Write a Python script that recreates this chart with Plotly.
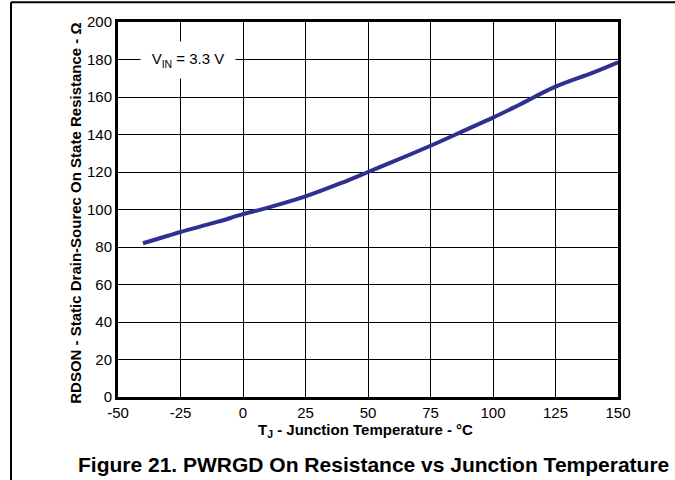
import plotly.graph_objects as go

# junction temperature (°C) vs on-state resistance (ohm)
temp_c = [-40, -30, -25, -10, 0, 10, 25, 40, 50, 60, 75, 90, 100, 110, 125, 140, 150]
rdson_ohm = [82, 86, 88, 93.5, 97.5, 101, 107, 114.5, 120, 125.5, 134, 143, 149, 155.5, 165.5, 173, 178.5]

x_ticks = [-50, -25, 0, 25, 50, 75, 100, 125, 150]
x_labels = ["-50", "-25", "0", "25", "50", "75", "100", "125", "150"]
y_ticks = [0, 20, 40, 60, 80, 100, 120, 140, 160, 180, 200]

FONT = "Liberation Sans, Arial, sans-serif"

fig = go.Figure()
fig.add_trace(go.Scatter(
    x=temp_c, y=rdson_ohm, mode="lines",
    line=dict(color="#2E3192", width=4, shape="spline"),
    showlegend=False, hoverinfo="skip",
))

axis_common = dict(
    showgrid=True, gridcolor="black", gridwidth=1,
    zeroline=False, showline=True, linecolor="black", linewidth=3,
    mirror=True, ticks="", tickfont=dict(family=FONT, size=15, color="black"),
)
fig.update_xaxes(range=[-50, 150], tickvals=x_ticks, ticktext=x_labels, **axis_common)
fig.update_yaxes(range=[0, 200], tickvals=y_ticks, **axis_common)

fig.add_annotation(
    x=-22, y=180, xref="x", yref="y",
    text="V<sub>IN</sub> = 3.3 V", showarrow=False,
    font=dict(family=FONT, size=15, color="black"),
    bgcolor="white", width=86, height=28, borderpad=4,
)
fig.add_annotation(
    x=0.494, y=-0.09, xref="paper", yref="paper", yanchor="middle",
    text="<b>T<sub>J</sub> - Junction Temperature - °C</b>", showarrow=False,
    font=dict(family=FONT, size=15, color="black"),
)
fig.add_annotation(
    x=-0.106, y=0.49, xref="paper", yref="paper", textangle=-90,
    text="<b>RDSON - Static Drain-Sourec On State Resistance - Ω</b>", showarrow=False,
    font=dict(family=FONT, size=15, color="black"),
)
fig.add_annotation(
    x=0.51, y=-0.181, xref="paper", yref="paper", yanchor="middle",
    text="<b>Figure 21. PWRGD On Resistance vs Junction Temperature</b>", showarrow=False,
    font=dict(family=FONT, size=21, color="black"),
)

# page frame (left and top rules)
fig.add_shape(type="line", xref="paper", yref="paper",
              x0=-0.214, x1=-0.214, y0=1.053, y1=-0.25, line=dict(color="black", width=2))
fig.add_shape(type="line", xref="paper", yref="paper",
              x0=-0.214, x1=1.2, y0=1.053, y1=1.053, line=dict(color="black", width=2))

fig.update_layout(
    width=675, height=480,
    margin=dict(l=118, r=57, t=22, b=83),
    paper_bgcolor="white", plot_bgcolor="white",
    font=dict(family=FONT),
)

fig.write_html("out.html", config={"displayModeBar": False},
               post_script="document.body.style.margin='0';")
